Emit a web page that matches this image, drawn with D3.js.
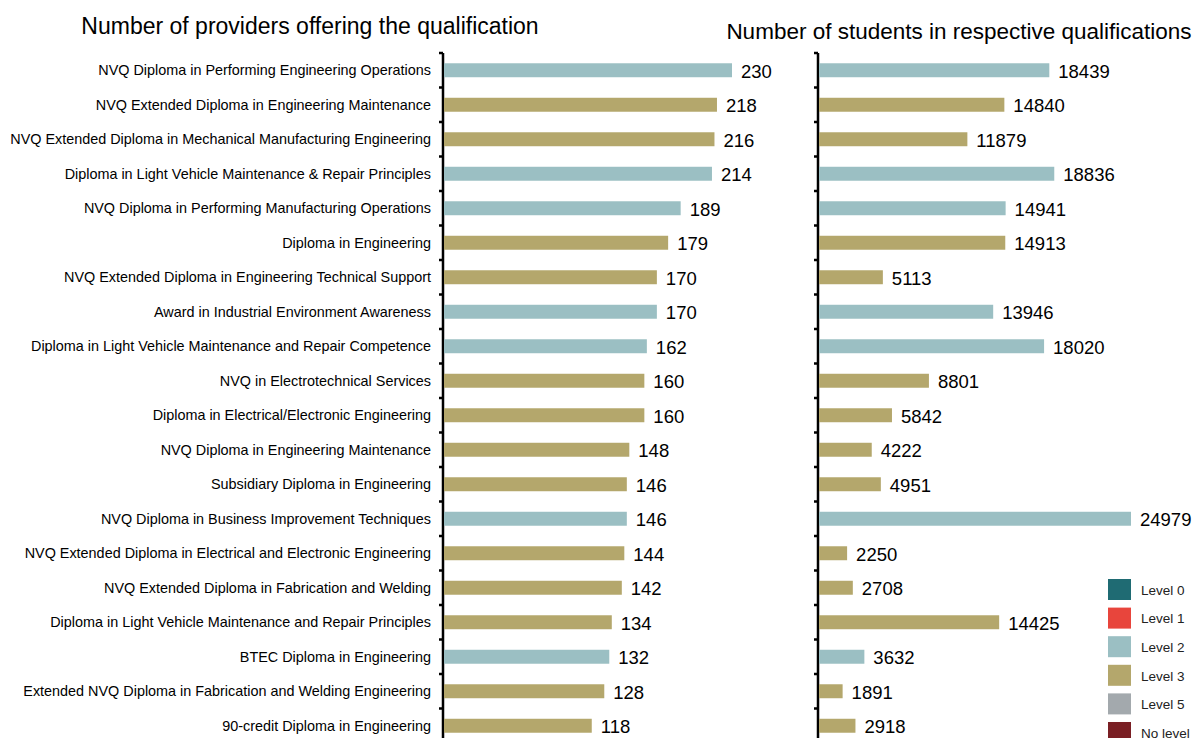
<!DOCTYPE html>
<html>
<head>
<meta charset="utf-8">
<script src="https://cdn.jsdelivr.net/npm/d3@7"></script>
<style>
  body { margin: 0; background: #fff; }
  text { font-family: "Liberation Sans", Arial, sans-serif; }
  .axis path, .axis line { stroke: #000; }
</style>
</head>
<body>
<div id="chart"></div>
<script>
// data
var qualifications = [
  "NVQ Diploma in Performing Engineering Operations",
  "NVQ Extended Diploma in Engineering Maintenance",
  "NVQ Extended Diploma in Mechanical Manufacturing Engineering",
  "Diploma in Light Vehicle Maintenance & Repair Principles",
  "NVQ Diploma in Performing Manufacturing Operations",
  "Diploma in Engineering",
  "NVQ Extended Diploma in Engineering Technical Support",
  "Award in Industrial Environment Awareness",
  "Diploma in Light Vehicle Maintenance and Repair Competence",
  "NVQ in Electrotechnical Services",
  "Diploma in Electrical/Electronic Engineering",
  "NVQ Diploma in Engineering Maintenance",
  "Subsidiary Diploma in Engineering",
  "NVQ Diploma in Business Improvement Techniques",
  "NVQ Extended Diploma in Electrical and Electronic Engineering",
  "NVQ Extended Diploma in Fabrication and Welding",
  "Diploma in Light Vehicle Maintenance and Repair Principles",
  "BTEC Diploma in Engineering",
  "Extended NVQ Diploma in Fabrication and Welding Engineering",
  "90-credit Diploma in Engineering"
];
var providers = [230, 218, 216, 214, 189, 179, 170, 170, 162, 160, 160, 148, 146, 146, 144, 142, 134, 132, 128, 118];
var students = [18439, 14840, 11879, 18836, 14941, 14913, 5113, 13946, 18020, 8801, 5842, 4222, 4951, 24979, 2250, 2708, 14425, 3632, 1891, 2918];
var levels = ["Level 2", "Level 3", "Level 3", "Level 2", "Level 2", "Level 3", "Level 3", "Level 2", "Level 2", "Level 3",
              "Level 3", "Level 3", "Level 3", "Level 2", "Level 3", "Level 3", "Level 3", "Level 2", "Level 3", "Level 3"];

var legendLevels = ["Level 0", "Level 1", "Level 2", "Level 3", "Level 5", "No level"];
var legendColors = ["#1f6b73", "#e8453c", "#9bbfc3", "#b4a76c", "#a3a9ad", "#7a1f24"];

var W = 1196, H = 738;
var svg = d3.select("#chart").append("svg").attr("width", W).attr("height", H);

var color = d3.scaleOrdinal().domain(legendLevels).range(legendColors);

var y = d3.scaleBand()
    .domain(d3.range(qualifications.length))
    .range([53, 53 + 34.5 * qualifications.length])
    .paddingInner(0.595)
    .paddingOuter(0.2975);

var left = 444, right = 819;
var x1 = d3.scaleLinear().domain([0, 230]).range([0, 288]);
var x2 = d3.scaleLinear().domain([0, 24979]).range([0, 312]);

// subtitles
svg.append("text")
    .attr("x", 310).attr("y", 34)
    .attr("text-anchor", "middle")
    .style("font-size", "23px")
    .text("Number of providers offering the qualification");
svg.append("text")
    .attr("x", 959).attr("y", 39)
    .attr("text-anchor", "middle")
    .style("font-size", "22.5px")
    .text("Number of students in respective qualifications");

// band axis with ticks on band boundaries
function drawAxis(x0) {
  var g = svg.append("g").attr("class", "axis");
  g.append("line")
      .attr("x1", x0 - 1).attr("x2", x0 - 1)
      .attr("y1", 53).attr("y2", H + 5)
      .attr("stroke-width", 2.5);
  g.selectAll("line.tick")
    .data(d3.range(qualifications.length + 1))
    .join("line")
      .attr("class", "tick")
      .attr("x1", x0 - 5).attr("x2", x0 - 1)
      .attr("y1", function(i) { return 53 + i * y.step(); })
      .attr("y2", function(i) { return 53 + i * y.step(); })
      .attr("stroke-width", 2.5);
}
drawAxis(left);
drawAxis(right);

// category labels
svg.append("g").selectAll("text")
  .data(qualifications)
  .join("text")
    .attr("x", 431)
    .attr("y", function(d, i) { return y(i) + y.bandwidth() / 2; })
    .attr("dy", "0.35em")
    .attr("text-anchor", "end")
    .style("font-size", "14.4px")
    .text(function(d) { return d; });

function drawBars(vals, x, x0) {
  var g = svg.append("g");
  g.selectAll("rect")
    .data(vals)
    .join("rect")
      .attr("x", x0)
      .attr("y", function(d, i) { return y(i); })
      .attr("width", function(d) { return x(d); })
      .attr("height", y.bandwidth())
      .attr("fill", function(d, i) { return color(levels[i]); });
  g.selectAll("text")
    .data(vals)
    .join("text")
      .attr("x", function(d) { return x0 + x(d) + 9; })
      .attr("y", function(d, i) { return y(i) + y.bandwidth() / 2 + 1; })
      .attr("dy", "0.35em")
      .style("font-size", "18.5px")
      .text(function(d) { return d; });
}
drawBars(providers, x1, left);
drawBars(students, x2, right);

// legend
var lg = svg.append("g").attr("transform", "translate(1108,579)");
var item = lg.selectAll("g")
  .data(legendLevels)
  .join("g")
    .attr("transform", function(d, i) { return "translate(0," + i * 28.6 + ")"; });
item.append("rect")
    .attr("width", 23).attr("height", 21)
    .attr("fill", function(d) { return color(d); });
item.append("text")
    .attr("x", 33).attr("y", 11)
    .attr("dy", "0.35em")
    .style("font-size", "13.5px")
    .attr("fill", "#222")
    .text(function(d) { return d; });
</script>
</body>
</html>
